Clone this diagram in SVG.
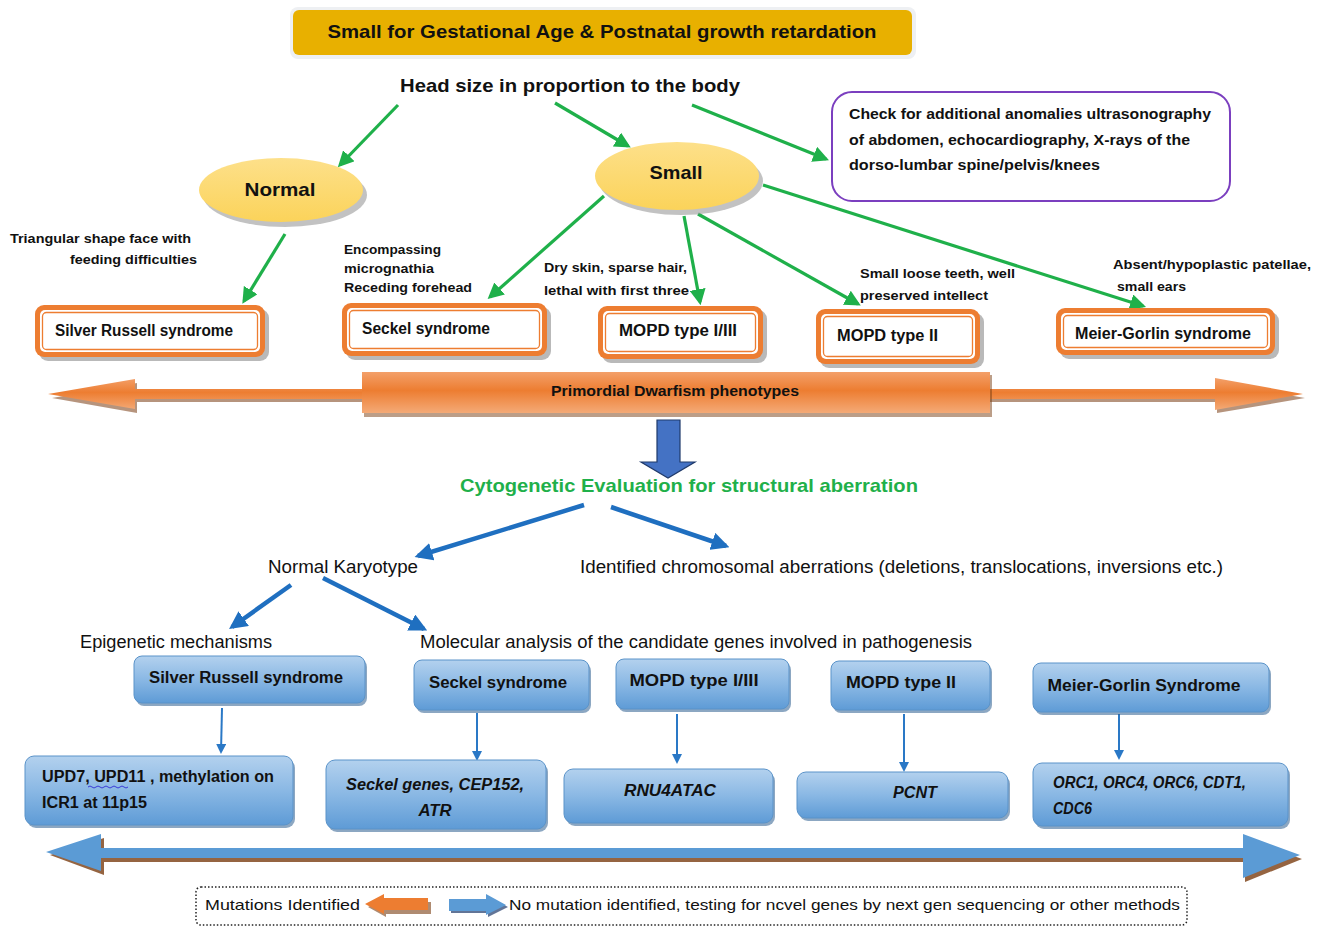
<svg xmlns="http://www.w3.org/2000/svg" width="1321" height="927" viewBox="0 0 1321 927">
<defs>
<style>
text{font-family:"Liberation Sans",Arial,sans-serif;fill:#111}
.b{font-weight:bold}
.i{font-style:italic;font-weight:bold}
.g{stroke:#1fb04a;stroke-width:3.2;fill:none}
.bl{stroke:#1f6fc0;stroke-width:4.5;fill:none}
.bt{stroke:#2a78c6;stroke-width:2;fill:none}
.ob{fill:#ED7D31}
.oin{fill:#fff}
.oline{fill:none;stroke:#ED7D31;stroke-width:1.3}
.sh{fill:#8a8a8a;opacity:.6}
.bbox{fill:url(#bg);stroke:#5a93c9;stroke-width:1}
.bsh{fill:#2d5f8f;opacity:.55}
</style>
<linearGradient id="bg" x1="0" y1="0" x2="0" y2="1">
<stop offset="0" stop-color="#b3d1ee"/>
<stop offset="0.5" stop-color="#8ab8e4"/>
<stop offset="1" stop-color="#5e9bd6"/>
</linearGradient>
<linearGradient id="og" x1="0" y1="0" x2="0" y2="1">
<stop offset="0" stop-color="#f3a06a"/>
<stop offset="0.45" stop-color="#ed7d31"/>
<stop offset="1" stop-color="#f4aa77"/>
</linearGradient>
<linearGradient id="yg" x1="0" y1="0" x2="0" y2="1">
<stop offset="0" stop-color="#fde08a"/>
<stop offset="1" stop-color="#fbd35a"/>
</linearGradient>
<marker id="mg" viewBox="0 0 10 10" refX="8" refY="5" markerWidth="5" markerHeight="5" orient="auto-start-reverse" markerUnits="strokeWidth">
<path d="M0,0 L10,5 L0,10 z" fill="#1fb04a"/>
</marker>
<marker id="mb" viewBox="0 0 10 10" refX="8" refY="5" markerWidth="4" markerHeight="4" orient="auto" markerUnits="strokeWidth">
<path d="M0,0 L10,5 L0,10 z" fill="#1f6fc0"/>
</marker>
<marker id="mbt" viewBox="0 0 10 10" refX="8" refY="5" markerWidth="5" markerHeight="5" orient="auto" markerUnits="strokeWidth">
<path d="M0,0 L10,5 L0,10 z" fill="#2a78c6"/>
</marker>
</defs>
<rect width="1321" height="927" fill="#fff"/>

<!-- Title -->
<g id="title">
<rect x="290" y="7" width="626" height="52" rx="8" fill="#eef0f3"/>
<rect x="293" y="10" width="619" height="45" rx="6" fill="#E8B000"/>
<text x="602" y="38" class="b" font-size="19" text-anchor="middle" textLength="549" lengthAdjust="spacingAndGlyphs">Small for Gestational Age &amp; Postnatal growth retardation</text>
</g>
<g id="head">
<text x="570" y="92" class="b" font-size="19" text-anchor="middle" textLength="340" lengthAdjust="spacingAndGlyphs">Head size in proportion to the body</text>
</g>

<!-- connectors -->
<g id="connectors">
<path class="g" d="M398,105 L340,165" marker-end="url(#mg)"/>
<path class="g" d="M555,103 L628,146" marker-end="url(#mg)"/>
<path class="g" d="M692,105 L826,159" marker-end="url(#mg)"/>
<path class="g" d="M285,234 L244,301" marker-end="url(#mg)"/>
<path class="g" d="M604,196 L490,297" marker-end="url(#mg)"/>
<path class="g" d="M684,216 L700,302" marker-end="url(#mg)"/>
<path class="g" d="M698,214 L858,304" marker-end="url(#mg)"/>
<path class="g" d="M763,185 L1143,306" marker-end="url(#mg)"/>
<path class="bl" d="M584,505 L418,556" marker-end="url(#mb)"/>
<path class="bl" d="M611,507 L726,546" marker-end="url(#mb)"/>
<path class="bl" d="M291,585 L232,627" marker-end="url(#mb)"/>
<path class="bl" d="M323,578 L424,629" marker-end="url(#mb)"/>
<path class="bt" d="M222,708 L221,752" marker-end="url(#mbt)"/>
<path class="bt" d="M477,713 L477,759" marker-end="url(#mbt)"/>
<path class="bt" d="M677,714 L677,762" marker-end="url(#mbt)"/>
<path class="bt" d="M904,714 L904,770" marker-end="url(#mbt)"/>
<path class="bt" d="M1119,714 L1119,758" marker-end="url(#mbt)"/>
</g>

<!-- Ellipses -->
<g id="normal">
<ellipse cx="285" cy="195" rx="82" ry="32" fill="#999" opacity=".6"/>
<ellipse cx="281" cy="190" rx="82" ry="32" fill="url(#yg)"/>
<text x="280" y="196" class="b" font-size="19" text-anchor="middle" textLength="71" lengthAdjust="spacingAndGlyphs">Normal</text>
</g>
<g id="small">
<ellipse cx="681" cy="181" rx="82" ry="34" fill="#999" opacity=".6"/>
<ellipse cx="677" cy="176" rx="82" ry="34" fill="url(#yg)"/>
<text x="676" y="179" class="b" font-size="19" text-anchor="middle" textLength="53" lengthAdjust="spacingAndGlyphs">Small</text>
</g>

<!-- Purple box -->
<g id="check">
<rect x="832" y="92" width="398" height="109" rx="20" fill="#fff" stroke="#7b3fbf" stroke-width="2"/>
<text x="849" y="119" class="b" font-size="15" textLength="362" lengthAdjust="spacingAndGlyphs">Check for additional anomalies ultrasonography</text>
<text x="849" y="145" class="b" font-size="15" textLength="341" lengthAdjust="spacingAndGlyphs">of abdomen, echocardiography, X-rays of the</text>
<text x="849" y="170" class="b" font-size="15" textLength="251" lengthAdjust="spacingAndGlyphs">dorso-lumbar spine/pelvis/knees</text>
</g>

<!-- Annotations -->
<g id="notes">
<text x="10" y="243" class="b" font-size="13.5" textLength="181" lengthAdjust="spacingAndGlyphs">Triangular shape face with</text>
<text x="70" y="264" class="b" font-size="13.5" textLength="127" lengthAdjust="spacingAndGlyphs">feeding difficulties</text>
<text x="344" y="254" class="b" font-size="13.5" textLength="97" lengthAdjust="spacingAndGlyphs">Encompassing</text>
<text x="344" y="273" class="b" font-size="13.5" textLength="90" lengthAdjust="spacingAndGlyphs">micrognathia</text>
<text x="344" y="292" class="b" font-size="13.5" textLength="128" lengthAdjust="spacingAndGlyphs">Receding forehead</text>
<text x="544" y="272" class="b" font-size="13.5" textLength="143" lengthAdjust="spacingAndGlyphs">Dry skin, sparse hair,</text>
<text x="544" y="295" class="b" font-size="13.5" textLength="145" lengthAdjust="spacingAndGlyphs">lethal with first three</text>
<text x="860" y="278" class="b" font-size="13.5" textLength="155" lengthAdjust="spacingAndGlyphs">Small loose teeth, well</text>
<text x="860" y="300" class="b" font-size="13.5" textLength="128" lengthAdjust="spacingAndGlyphs">preserved intellect</text>
<text x="1113" y="269" class="b" font-size="13.5" textLength="198" lengthAdjust="spacingAndGlyphs">Absent/hypoplastic patellae,</text>
<text x="1117" y="291" class="b" font-size="13.5" textLength="69" lengthAdjust="spacingAndGlyphs">small ears</text>
</g>

<!-- Orange boxes -->
<g id="o-srs">
<rect x="39" y="309" width="230" height="52" rx="9" class="sh"/>
<rect x="35" y="305" width="230" height="52" rx="9" class="ob"/>
<rect x="40" y="310" width="220" height="42" rx="5" class="oin"/>
<rect x="42.5" y="312.5" width="215" height="37" rx="4" class="oline"/>
<text x="55" y="336" class="b" font-size="16" textLength="178" lengthAdjust="spacingAndGlyphs">Silver Russell syndrome</text>
</g>
<g id="o-seckel">
<rect x="346" y="307" width="205" height="53" rx="9" class="sh"/>
<rect x="342" y="303" width="205" height="53" rx="9" class="ob"/>
<rect x="347" y="308" width="195" height="43" rx="5" class="oin"/>
<rect x="349.5" y="310.5" width="190" height="38" rx="4" class="oline"/>
<text x="362" y="334" class="b" font-size="16" textLength="128" lengthAdjust="spacingAndGlyphs">Seckel syndrome</text>
</g>
<g id="o-mopd13">
<rect x="602" y="310" width="165" height="53" rx="9" class="sh"/>
<rect x="598" y="306" width="165" height="53" rx="9" class="ob"/>
<rect x="603" y="311" width="155" height="43" rx="5" class="oin"/>
<rect x="605.5" y="313.5" width="150" height="38" rx="4" class="oline"/>
<text x="619" y="336" class="b" font-size="16" textLength="118" lengthAdjust="spacingAndGlyphs">MOPD type I/III</text>
</g>
<g id="o-mopd2">
<rect x="820" y="313" width="164" height="55" rx="9" class="sh"/>
<rect x="816" y="309" width="164" height="55" rx="9" class="ob"/>
<rect x="821" y="314" width="154" height="45" rx="5" class="oin"/>
<rect x="823.5" y="316.5" width="149" height="40" rx="4" class="oline"/>
<text x="837" y="341" class="b" font-size="16" textLength="101" lengthAdjust="spacingAndGlyphs">MOPD type II</text>
</g>
<g id="o-mgs">
<rect x="1060" y="312" width="219" height="47" rx="9" class="sh"/>
<rect x="1056" y="308" width="219" height="47" rx="9" class="ob"/>
<rect x="1061" y="313" width="209" height="37" rx="5" class="oin"/>
<rect x="1063.5" y="315.5" width="204" height="32" rx="4" class="oline"/>
<text x="1075" y="339" class="b" font-size="16" textLength="176" lengthAdjust="spacingAndGlyphs">Meier-Gorlin syndrome</text>
</g>

<!-- Big orange double arrow -->
<g id="pd-arrow">
<path d="M52,398 L137,383 L137,392 L1217,392 L1217,382 L1305,398 L1217,413 L1217,402 L137,402 L137,413 Z" fill="#7a3d12" opacity=".55"/>
<path d="M48,394 L135,379 L135,389 L1215,389 L1215,378 L1303,394 L1215,410 L1215,399 L135,399 L135,409 Z" fill="url(#og)"/>
<rect x="364" y="375" width="628" height="42" fill="#7a3d12" opacity=".5"/>
<rect x="362" y="372" width="628" height="41" fill="url(#og)"/>
<text x="675" y="396" class="b" font-size="15" text-anchor="middle" textLength="248" lengthAdjust="spacingAndGlyphs">Primordial Dwarfism phenotypes</text>
</g>

<!-- Blue down arrow -->
<g id="down-arrow">
<path d="M657,420 L680,420 L680,462 L695,462 L668,478 L641,462 L657,462 Z" fill="#4472c4" stroke="#1f3a6b" stroke-width="1.2"/>
</g>

<g id="cyto">
<text x="460" y="492" class="b" font-size="19" style="fill:#1fb04a" textLength="458" lengthAdjust="spacingAndGlyphs">Cytogenetic Evaluation for structural aberration</text>
</g>
<g id="nk"><text x="268" y="573" font-size="17.5" textLength="150" lengthAdjust="spacingAndGlyphs">Normal Karyotype</text></g>
<g id="ica"><text x="580" y="573" font-size="17.5" textLength="643" lengthAdjust="spacingAndGlyphs">Identified chromosomal aberrations (deletions, translocations, inversions etc.)</text></g>
<g id="epi"><text x="80" y="648" font-size="17.5" textLength="192" lengthAdjust="spacingAndGlyphs">Epigenetic mechanisms</text></g>
<g id="mol"><text x="420" y="648" font-size="17.5" textLength="552" lengthAdjust="spacingAndGlyphs">Molecular analysis of the candidate genes involved in pathogenesis</text></g>

<!-- Blue top boxes -->
<g id="b-srs">
<rect x="136" y="659" width="231" height="47" rx="8" class="bsh"/>
<rect x="134" y="656" width="231" height="47" rx="8" class="bbox"/>
<text x="246" y="683" class="b" font-size="16" text-anchor="middle" textLength="194" lengthAdjust="spacingAndGlyphs">Silver Russell syndrome</text>
</g>
<g id="b-seckel">
<rect x="416" y="663" width="175" height="50" rx="8" class="bsh"/>
<rect x="414" y="660" width="175" height="50" rx="8" class="bbox"/>
<text x="498" y="688" class="b" font-size="16" text-anchor="middle" textLength="138" lengthAdjust="spacingAndGlyphs">Seckel syndrome</text>
</g>
<g id="b-mopd13">
<rect x="618" y="662" width="173" height="50" rx="8" class="bsh"/>
<rect x="616" y="659" width="173" height="50" rx="8" class="bbox"/>
<text x="694" y="686" class="b" font-size="16" text-anchor="middle" textLength="129" lengthAdjust="spacingAndGlyphs">MOPD type I/III</text>
</g>
<g id="b-mopd2">
<rect x="833" y="664" width="159" height="49" rx="8" class="bsh"/>
<rect x="831" y="661" width="159" height="49" rx="8" class="bbox"/>
<text x="901" y="688" class="b" font-size="16" text-anchor="middle" textLength="110" lengthAdjust="spacingAndGlyphs">MOPD type II</text>
</g>
<g id="b-mgs">
<rect x="1035" y="666" width="236" height="49" rx="8" class="bsh"/>
<rect x="1033" y="663" width="236" height="49" rx="8" class="bbox"/>
<text x="1144" y="691" class="b" font-size="16" text-anchor="middle" textLength="193" lengthAdjust="spacingAndGlyphs">Meier-Gorlin Syndrome</text>
</g>

<!-- Blue bottom boxes -->
<g id="b-upd">
<rect x="27" y="759" width="268" height="69" rx="9" class="bsh"/>
<rect x="25" y="756" width="268" height="69" rx="9" class="bbox"/>
<text x="42" y="782" class="b" font-size="16" textLength="232" lengthAdjust="spacingAndGlyphs">UPD7, UPD11 , methylation on</text>
<path d="M88,787 q2,-2 4,0 t4,0 t4,0 t4,0 t4,0 t4,0 t4,0 t4,0 t4,0 t4,0" fill="none" stroke="#3b3bd6" stroke-width="1"/>
<text x="42" y="808" class="b" font-size="16" textLength="105" lengthAdjust="spacingAndGlyphs">ICR1 at 11p15</text>
</g>
<g id="b-seckelgenes">
<rect x="328" y="763" width="220" height="69" rx="9" class="bsh"/>
<rect x="326" y="760" width="220" height="69" rx="9" class="bbox"/>
<text x="435" y="790" class="i" font-size="16" text-anchor="middle" textLength="178" lengthAdjust="spacingAndGlyphs">Seckel genes, CEP152,</text>
<text x="435" y="816" class="i" font-size="16" text-anchor="middle" textLength="33" lengthAdjust="spacingAndGlyphs">ATR</text>
</g>
<g id="b-rnu">
<rect x="566" y="772" width="209" height="54" rx="9" class="bsh"/>
<rect x="564" y="769" width="209" height="54" rx="9" class="bbox"/>
<text x="670" y="796" class="i" font-size="16" text-anchor="middle" textLength="92" lengthAdjust="spacingAndGlyphs">RNU4ATAC</text>
</g>
<g id="b-pcnt">
<rect x="799" y="775" width="211" height="46" rx="9" class="bsh"/>
<rect x="797" y="772" width="211" height="46" rx="9" class="bbox"/>
<text x="915" y="798" class="i" font-size="16" text-anchor="middle" textLength="44" lengthAdjust="spacingAndGlyphs">PCNT</text>
</g>
<g id="b-orc">
<rect x="1035" y="766" width="255" height="63" rx="9" class="bsh"/>
<rect x="1033" y="763" width="255" height="63" rx="9" class="bbox"/>
<text x="1053" y="788" class="i" font-size="16" textLength="193" lengthAdjust="spacingAndGlyphs">ORC1, ORC4, ORC6, CDT1,</text>
<text x="1053" y="814" class="i" font-size="16" textLength="39" lengthAdjust="spacingAndGlyphs">CDC6</text>
</g>

<!-- Blue double arrow -->
<g id="blue-arrow">
<path d="M50,855 L104,838 L104,852 L1245,852 L1245,838 L1302,859 L1245,882 L1245,862 L104,862 L104,875 Z" fill="#7a3d12" opacity=".8"/>
<path d="M46,852 L101,834 L101,848 L1243,848 L1243,834 L1300,855 L1243,878 L1243,858 L101,858 L101,871 Z" fill="#5b9bd5"/>
</g>

<!-- Legend -->
<g id="legend">
<rect x="196" y="887" width="991" height="38" rx="5" fill="none" stroke="#222" stroke-width="1.5" stroke-dasharray="1.5 2"/>
<text x="205" y="910" font-size="15" textLength="155" lengthAdjust="spacingAndGlyphs">Mutations Identified</text>
<path d="M367,905 L385,896 L385,900 L430,900 L430,912 L385,912 L385,915 Z" fill="#7a3d12" opacity=".6" transform="translate(1,2)"/>
<path d="M365,904 L384,894 L384,898 L428,898 L428,910 L384,910 L384,914 Z" fill="#ed7d31"/>
<path d="M451,901 L488,901 L488,896 L508,907 L488,917 L488,913 L451,913 Z" fill="#1f3a6b" opacity=".7"/>
<path d="M449,899 L486,899 L486,894 L506,905 L486,915 L486,911 L449,911 Z" fill="#5b9bd5"/>
<text x="509" y="910" font-size="15" textLength="671" lengthAdjust="spacingAndGlyphs">No mutation identified, testing for ncvel genes by next gen sequencing or other methods</text>
</g>
</svg>
